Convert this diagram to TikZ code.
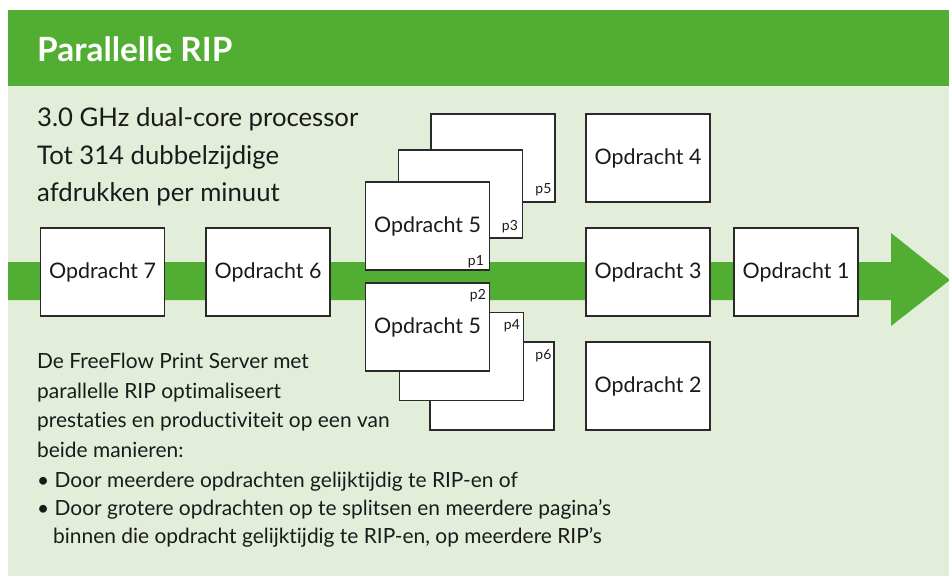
\documentclass[tikz,border=0pt]{standalone}
\usepackage{fontspec}
\setmainfont{Lato}[Ligatures=NoCommon]
\definecolor{hdr}{HTML}{52AE32}
\definecolor{bgl}{HTML}{E2EED9}
\definecolor{edge}{HTML}{2A2A2A}
\definecolor{ink}{HTML}{1A1A1A}
\tikzset{
  jobbox/.style={draw=edge, fill=white, line width=1.1bp, minimum width=124bp, minimum height=88bp, inner sep=0pt, text=ink, font=\fontsize{21.5}{26}\selectfont},
  plabel/.style={inner sep=0pt, text=ink, font=\fontsize{14}{17}\selectfont},
  bigtxt/.style={inner sep=0pt, anchor=base west, text=ink, font=\fontsize{25.8}{30}\selectfont},
  smalltxt/.style={inner sep=0pt, anchor=base west, text=ink, font=\fontsize{21}{24}\selectfont},
}
\begin{document}
\begin{tikzpicture}[x=1bp,y=-1bp]
\useasboundingbox (0,0) rectangle (949,576);
\fill[white] (0,0) rectangle (949,576);
\fill[hdr] (8,10) rectangle (949,86);
\fill[bgl] (8,86) rectangle (949,576);
\node[inner sep=0pt, anchor=base west, text=white, font=\bfseries\fontsize{33.5}{40}\selectfont] (title) at (37,62) {Parallelle RIP};
% main arrow
\fill[hdr] (8,262) -- (891,262) -- (891,233) -- (950,280) -- (891,326) -- (891,300) -- (8,300) -- cycle;
% top text
\node[bigtxt] (l1) at (37,127) {3.0 GHz dual-core processor};
\node[bigtxt] (l2) at (37,165) {Tot 314 dubbelzijdige};
\node[bigtxt] (l3) at (37,202) {afdrukken per minuut};
% single boxes
\node[jobbox] (j7) at (102.5,272) {Opdracht 7};
\node[jobbox] (j6) at (268,272) {Opdracht 6};
\node[jobbox] (j4) at (648,158) {Opdracht 4};
\node[jobbox] (j3) at (648,272) {Opdracht 3};
\node[jobbox] (j2) at (648,386) {Opdracht 2};
\node[jobbox] (j1) at (796,272) {Opdracht 1};
% top stack
\node[jobbox] (a5) at (493,158) {};
\node[plabel, anchor=base east] (p5) at ([xshift=-4bp,yshift=9bp]a5.south east) {p5};
\node[jobbox] (a3) at (460.5,194) {};
\node[plabel, anchor=base east] (p3) at ([xshift=-5bp,yshift=8bp]a3.south east) {p3};
\node[jobbox] (a1) at (427.5,226) {Opdracht 5};
\node[plabel, anchor=base east] (p1) at ([xshift=-6bp,yshift=5bp]a1.south east) {p1};
% bottom stack
\node[jobbox] (b6) at (492,386) {};
\node[plabel, anchor=base east] (p6) at ([xshift=-3bp,yshift=-18bp]b6.north east) {p6};
\node[jobbox] (b4) at (461.5,356.5) {};
\node[plabel, anchor=base east] (p4) at ([xshift=-4bp,yshift=-18bp]b4.north east) {p4};
\node[jobbox] (b2) at (427.5,327) {Opdracht 5};
\node[plabel, anchor=base east] (p2) at ([xshift=-4bp,yshift=-17bp]b2.north east) {p2};
% bottom text
\node[smalltxt] (s1) at (37,368) {De FreeFlow Print Server met};
\node[smalltxt] (s2) at (37,398) {parallelle RIP optimaliseert};
\node[smalltxt] (s3) at (37,427) {prestaties en productiviteit op een van};
\node[smalltxt] (s4) at (37,457) {beide manieren:};
\node[smalltxt] (s5) at (37,487) {•\ Door meerdere opdrachten gelijktijdig te RIP-en of};
\node[smalltxt] (s6) at (37,515) {•\ Door grotere opdrachten op te splitsen en meerdere pagina’s};
\node[smalltxt] (s7) at (53,543) {binnen die opdracht gelijktijdig te RIP-en, op meerdere RIP’s};
\end{tikzpicture}
\end{document}
